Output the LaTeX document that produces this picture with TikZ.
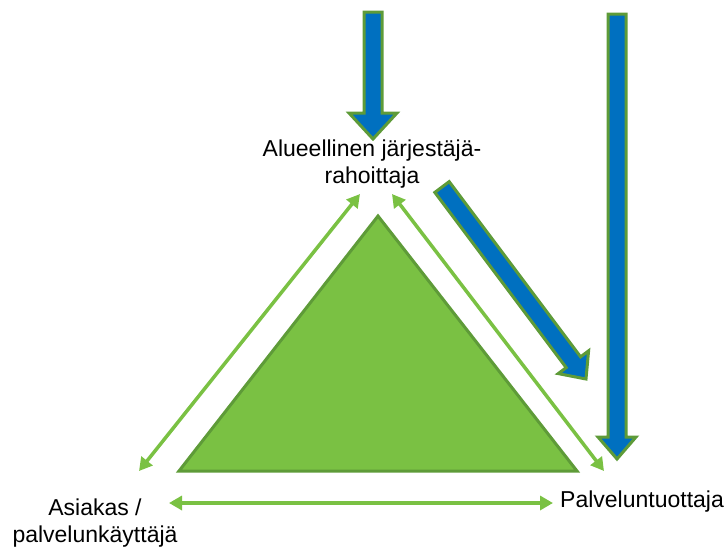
\documentclass[tikz,border=0pt]{standalone}
\usepackage{fontspec}
\setmainfont{Liberation Sans}
\usetikzlibrary{arrows.meta,calc}

\definecolor{lehti}{HTML}{7AC143}
\definecolor{lehtireuna}{HTML}{5E9B38}
\definecolor{sini}{HTML}{0070C0}

\tikzset{
  kolmio/.style={fill=lehti,draw=lehtireuna,line width=3pt,line join=miter},
  suhde/.style={draw=lehti,line width=3.5pt,
    {Triangle[length=13pt,width=14pt]}-{Triangle[length=13pt,width=14pt]}},
  rahavirta/.style={fill=sini,draw=lehtireuna,line width=3pt,line join=miter},
  toimija/.style={font=\fontsize{23}{27}\selectfont,align=center,inner sep=0pt}
}

% leveä nuoli: kanta, kärki, kärjen puolileveys, kärjen pituus
\newcommand{\rahanuoli}[4]{%
  \coordinate (rn-h) at ($(#2)!#4!(#1)$);
  \draw[rahavirta] ($(#1)!9pt!90:(#2)$) -- ($(rn-h)!9pt!90:(#2)$)
    -- ($(rn-h)!#3!90:(#2)$) -- (#2) -- ($(rn-h)!#3!-90:(#2)$)
    -- ($(rn-h)!9pt!-90:(#2)$) -- ($(#1)!9pt!-90:(#2)$) -- cycle;}

\begin{document}
\begin{tikzpicture}[x=1pt,y=-1pt]
  \useasboundingbox (0,0) rectangle (726,547);

  %% Toimijat (base = viimeisen rivin perusviiva)
  \node[toimija,anchor=base] (jarjestaja) at (372,183) {Alueellinen järjestäjä-\\rahoittaja};
  \node[toimija,anchor=base] (asiakas) at (95,542) {Asiakas /\\palvelunkäyttäjä};
  \node[toimija,anchor=base west] (tuottaja) at (560,507) {Palveluntuottaja};

  %% Kolmio
  \draw[kolmio] (378,216) -- (577,471) -- (179,471) -- cycle;

  %% Suhteet
  \coordinate (j-vasen) at (360,194);
  \coordinate (j-oikea) at (392,194);
  \coordinate (a-ylos) at (139,471);
  \coordinate (a-sivu) at (169,503);
  \coordinate (t-ylos) at (604,471);
  \coordinate (t-sivu) at (553,503);
  \draw[suhde] (a-ylos) -- (j-vasen);
  \draw[suhde] (j-oikea) -- (t-ylos);
  \draw[suhde] (a-sivu) -- (t-sivu);

  %% Rahavirrat
  \coordinate (r1-alku) at (373,12);
  \coordinate (r1-loppu) at (373,139);
  \coordinate (r2-alku) at (442,187);
  \coordinate (r2-loppu) at (586,379);
  \coordinate (r3-alku) at (617,14);
  \coordinate (r3-loppu) at (617,459);
  \rahanuoli{r1-alku}{r1-loppu}{24pt}{26pt}
  \rahanuoli{r2-alku}{r2-loppu}{19pt}{21pt}
  \rahanuoli{r3-alku}{r3-loppu}{19pt}{22pt}
\end{tikzpicture}
\end{document}
